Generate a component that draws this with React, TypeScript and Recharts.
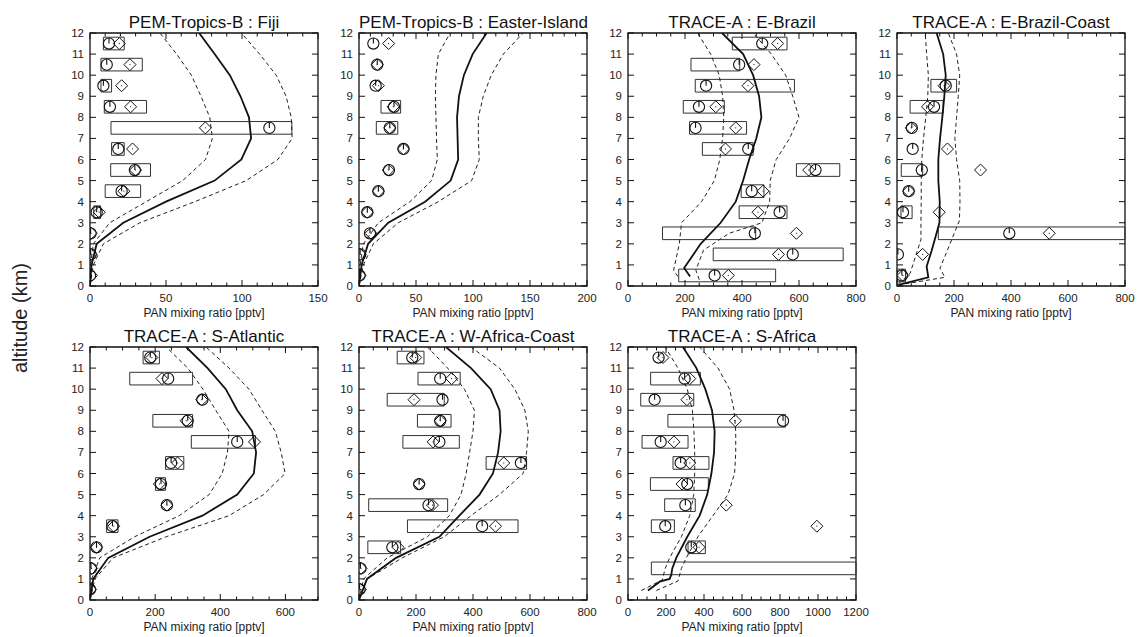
import { ScatterChart, Scatter, XAxis, YAxis, ReferenceArea } from 'recharts';

// altitude levels (km) of the observed bins and of the model profile vertices
const obsAlt = [0.5, 1.5, 2.5, 3.5, 4.5, 5.5, 6.5, 7.5, 8.5, 9.5, 10.5, 11.5];
const modelAlt = [0, 1, 2, 3, 4, 5, 6, 7, 8, 9, 10, 11, 12];
const altTicks = [0, 1, 2, 3, 4, 5, 6, 7, 8, 9, 10, 11, 12];

// PEM-Tropics-B : Fiji
const fijiTicks = [0, 50, 100, 150];
const fijiMean = [0, 1, 4.4, 21.9, 50, 82, 99.6, 106, 104.6, 99, 92, 82, 71.8];
const fijiLow = [0, 0.4, 2.2, 13, 37, 61, 76, 80.5, 78.8, 73, 66.7, 57, 46];
const fijiHigh = [0, 2.2, 8.8, 32.8, 69, 102.8, 123.6, 133, 132.4, 129, 122.5, 111.6, 99.6];
const fijiCircle = [0, 0.4, 0.4, 4.4, 20.8, 29.5, 18.6, 118, 13.1, 8.8, 11, 12.5];
const fijiDiamond = [1, 0.7, 0.7, 6.1, 22.3, 30, 28, 75.9, 26.7, 20.8, 26.3, 19.3];
const fijiBoxLo = [null, null, null, 2.5, 10, 13.6, 14.2, 13.8, 9.4, 7.2, 7.2, 8.8];
const fijiBoxHi = [null, null, null, 7, 33.3, 39.8, 22.5, 132.8, 37.2, 14.2, 34.4, 22.5];

// PEM-Tropics-B : Easter-Island
const easterTicks = [0, 50, 100, 150, 200];
const easterMean = [0, 2.3, 8, 25.7, 58, 80.4, 87, 86.5, 86, 87.7, 92, 99.7, 112];
const easterLow = [0, 1, 3.8, 17, 44.7, 63.7, 68.7, 68, 67.5, 67, 67.5, 69.6, 80];
const easterHigh = [0, 3.8, 12.6, 34.5, 69.6, 98.8, 105.5, 104.7, 104.7, 109, 116, 126.6, 144];
const easterCircle = [0.5, 1, 9.6, 7.3, 17, 26.3, 39, 27, 30.7, 14.6, 16, 12.6];
const easterDiamond = [1, 1, 10.5, 7.3, 17, 25.7, 39, 27, 30, 17, 16, 26];
const easterBoxLo = [null, null, null, null, null, null, null, 15.2, 19.3, null, null, null];
const easterBoxHi = [null, null, null, null, null, null, null, 34, 36.5, null, null, null];

// TRACE-A : E-Brazil
const brazilTicks = [0, 200, 400, 600, 800];
const brazilMeanAlt = [0.45, 0.85, 2, 3, 4, 5, 6, 7, 8, 9, 10, 11, 12];
const brazilMean = [218, 197, 255, 325, 378, 404, 425, 450, 468, 460, 439, 404, 330];
const brazilLowAlt = [0.45, 0.75, 2, 3, 4, 5, 6, 7, 8, 9, 10, 11, 12];
const brazilLow = [175, 160, 180, 188, 258, 303, 322, 332, 336, 332, 320, 290, 244];
const brazilHighAlt = [0.3, 0.75, 1.7, 2.5, 3, 4, 5, 6, 7, 8, 9, 10, 11, 12];
const brazilHigh = [250, 238, 265, 355, 470, 497, 499, 520, 567, 600, 578, 553, 503, 439];
const brazilCircle = [304, 578, 445, 532, 434, 658, 422, 237, 249, 274, 390, 471];
const brazilDiamond = [352, 528, 591, 456, 474, 634, 342, 378, 308, 421, 442, 525];
const brazilBoxLo = [178, 299, 121, 390, 397, 591, 261, 216, 194, 236, 221, 366];
const brazilBoxHi = [518, 755, 448, 558, 477, 743, 439, 416, 338, 584, 392, 558];

// TRACE-A : E-Brazil-Coast
const coastMeanAlt = [0.05, 0.41, 0.92, 1.7, 3, 4, 5, 6, 7, 8, 9, 10, 11, 12];
const coastMean = [5, 110, 104, 122, 149, 150, 145, 145, 151, 159, 166, 171, 162, 139];
const coastLowAlt = [0.1, 0.6, 2.2, 3, 4, 5, 6, 7, 8, 9, 10, 11, 12];
const coastLow = [5, 46, 84, 84, 85, 85, 87, 93, 101, 108, 110, 104, 99];
const coastHighAlt = [0.05, 0.41, 0.84, 3.1, 4, 5, 6, 7, 8, 9, 10, 11, 12];
const coastHigh = [5, 168, 151, 219, 221, 220, 209, 203, 209, 215, 220, 209, 180];
const coastCircle = [17, 3, 394, 21, 41, 87, 55, 52, 130, 171, null, null];
const coastDiamond = [21, 90, 534, 148, 41, 293, 177, 50, 107, 165, null, null];
const coastBoxLo = [0, null, 145, 14, null, 15, null, null, 46, 119, null, null];
const coastBoxHi = [30, null, 800, 53, null, 90, null, null, 162, 209, null, null];

// TRACE-A : S-Atlantic
const atlTicks = [0, 200, 400, 600];
const atlMean = [0, 10, 56, 183, 345, 452, 503, 510, 498, 452, 417, 361, 295];
const atlLow = [0, 5, 30, 137, 274, 366, 406, 422, 427, 386, 347, 300, 234];
const atlHigh = [0, 15, 71, 234, 427, 533, 599, 587, 569, 528, 488, 427, 356];
const atlCircle = [0, 3, 20, 69, 236, 218, 249, 452, 300, 345, 240, 185];
const atlDiamond = [2, 5, 20, 73, 236, 213, 269, 505, 295, 343, 221, 190];
const atlBoxLo = [null, null, null, 51, null, 201, 232, 311, 193, null, 122, 163];
const atlBoxHi = [null, null, null, 86, null, 232, 288, 508, 315, null, 315, 213];

// TRACE-A : W-Africa-Coast
const wafMean = [0, 28, 130, 282, 352, 423, 470, 488, 497, 493, 462, 393, 305];
const wafLow = [0, 16, 99, 240, 317, 358, 376, 388, 400, 405, 370, 311, 240];
const wafHigh = [0, 28, 152, 299, 393, 493, 576, 588, 594, 582, 547, 493, 393];
const wafCircle = [2, 5, 117, 432, 244, 211, 568, 282, 285, 293, 285, 187];
const wafDiamond = [5, 7, 137, 479, 258, 211, 508, 260, 285, 193, 325, 199];
const wafBoxLo = [null, null, 31, 170, 34, null, 446, 154, 205, 99, 207, 134];
const wafBoxHi = [null, null, 146, 558, 311, null, 588, 352, 323, 299, 355, 228];

// TRACE-A : S-Africa
const safTicks = [0, 200, 400, 600, 800, 1000, 1200];
const safMeanAlt = [0.45, 0.87, 1.0, 1.2, 1.5, 2, 3, 4, 5, 6, 7, 8, 9, 10, 11, 12];
const safMean = [105, 167, 219, 228, 233, 254, 312, 377, 417, 439, 453, 456, 442, 407, 360, 289];
const safLowAlt = [0.45, 0.95, 1.5, 2, 3, 4, 5, 6, 7, 8, 9, 10, 11, 12];
const safLow = [70, 180, 196, 219, 281, 325, 346, 351, 351, 347, 339, 312, 263, 196];
const safHighAlt = [0.45, 0.9, 1.5, 2, 3, 4, 5, 6, 7, 8, 9, 10, 11, 12];
const safHigh = [149, 263, 281, 307, 368, 447, 526, 561, 567, 567, 558, 535, 474, 377];
const safCircle = [null, null, 333, 196, 302, 312, 277, 172, 816, 140, 298, 161];
const safDiamond = [null, null, 374, 994, 517, 284, 325, 242, 565, 310, 325, 184];
const safBoxLo = [null, 123, 316, 123, 193, 118, 237, 74, 210, 67, 119, null];
const safBoxHi = [null, 1200, 407, 244, 354, 423, 426, 316, 828, 346, 381, null];

type Val = number | null;
type Pt = { x: number; y: number };

const prof = (alt: number[], val: number[]): Pt[] => alt.map((a, i) => ({ x: val[i], y: a }));
const obs = (vals: Val[]): Pt[] =>
  obsAlt.flatMap((a, i) => (vals[i] == null ? [] : [{ x: vals[i] as number, y: a }]));

type PanelDef = {
  title: string;
  xMax: number;
  xTicks: number[];
  minor: number;
  mean: Pt[];
  low: Pt[];
  high: Pt[];
  circle: Val[];
  diamond: Val[];
  boxLo: Val[];
  boxHi: Val[];
  col: number;
  row: number;
};

const panels: PanelDef[] = [
  { title: 'PEM-Tropics-B : Fiji', xMax: 150, xTicks: fijiTicks, minor: 10,
    mean: prof(modelAlt, fijiMean), low: prof(modelAlt, fijiLow), high: prof(modelAlt, fijiHigh),
    circle: fijiCircle, diamond: fijiDiamond, boxLo: fijiBoxLo, boxHi: fijiBoxHi, col: 0, row: 0 },
  { title: 'PEM-Tropics-B : Easter-Island', xMax: 200, xTicks: easterTicks, minor: 10,
    mean: prof(modelAlt, easterMean), low: prof(modelAlt, easterLow), high: prof(modelAlt, easterHigh),
    circle: easterCircle, diamond: easterDiamond, boxLo: easterBoxLo, boxHi: easterBoxHi, col: 1, row: 0 },
  { title: 'TRACE-A : E-Brazil', xMax: 800, xTicks: brazilTicks, minor: 50,
    mean: prof(brazilMeanAlt, brazilMean), low: prof(brazilLowAlt, brazilLow), high: prof(brazilHighAlt, brazilHigh),
    circle: brazilCircle, diamond: brazilDiamond, boxLo: brazilBoxLo, boxHi: brazilBoxHi, col: 2, row: 0 },
  { title: 'TRACE-A : E-Brazil-Coast', xMax: 800, xTicks: brazilTicks, minor: 50,
    mean: prof(coastMeanAlt, coastMean), low: prof(coastLowAlt, coastLow), high: prof(coastHighAlt, coastHigh),
    circle: coastCircle, diamond: coastDiamond, boxLo: coastBoxLo, boxHi: coastBoxHi, col: 3, row: 0 },
  { title: 'TRACE-A : S-Atlantic', xMax: 700, xTicks: atlTicks, minor: 50,
    mean: prof(modelAlt, atlMean), low: prof(modelAlt, atlLow), high: prof(modelAlt, atlHigh),
    circle: atlCircle, diamond: atlDiamond, boxLo: atlBoxLo, boxHi: atlBoxHi, col: 0, row: 1 },
  { title: 'TRACE-A : W-Africa-Coast', xMax: 800, xTicks: brazilTicks, minor: 50,
    mean: prof(modelAlt, wafMean), low: prof(modelAlt, wafLow), high: prof(modelAlt, wafHigh),
    circle: wafCircle, diamond: wafDiamond, boxLo: wafBoxLo, boxHi: wafBoxHi, col: 1, row: 1 },
  { title: 'TRACE-A : S-Africa', xMax: 1200, xTicks: safTicks, minor: 50,
    mean: prof(safMeanAlt, safMean), low: prof(safLowAlt, safLow), high: prof(safHighAlt, safHigh),
    circle: safCircle, diamond: safDiamond, boxLo: safBoxLo, boxHi: safBoxHi, col: 2, row: 1 },
];

const COL_X = [90, 359, 628, 897];
const ROW_Y = [33, 347];
const PW = 228;
const PH = 253;
const AXW = 40;
const AXH = 30;
const MT = 5;
const MR = 18;
const BOX_HALF = 0.3;
const INK = '#111';

const OpenCircle = (p: any) => {
  const { cx, cy } = p;
  if (cx == null || cy == null) return <g />;
  return (
    <g>
      <circle cx={cx} cy={cy} r={5.6} fill="none" stroke={INK} strokeWidth={1.1} />
      <line x1={cx} y1={cy - 5.6} x2={cx} y2={cy} stroke={INK} strokeWidth={1.1} />
    </g>
  );
};

const Diamond = (p: any) => {
  const { cx, cy } = p;
  if (cx == null || cy == null) return <g />;
  const s = 6;
  return (
    <g>
      <polygon
        points={`${cx},${cy - s} ${cx + s},${cy} ${cx},${cy + s} ${cx - s},${cy}`}
        fill="none"
        stroke={INK}
        strokeWidth={1}
      />
      <rect x={cx - 0.5} y={cy - 0.5} width={1} height={1} fill={INK} />
    </g>
  );
};

const NoDot = () => <g />;

function Panel({ d }: { d: PanelDef }) {
  const left = COL_X[d.col];
  const top = ROW_Y[d.row];
  const allTicks: number[] = [];
  for (let v = 0; v <= d.xMax + 1e-9; v += d.minor) allTicks.push(v);

  const xTick = (p: any) => {
    const { x, y, payload } = p;
    const v = payload.value;
    const isMajor = d.xTicks.includes(v);
    const len = isMajor ? 6 : 3.5;
    return (
      <g>
        <line x1={x} y1={y} x2={x} y2={y - len} stroke={INK} />
        <line x1={x} y1={y - PH} x2={x} y2={y - PH + len} stroke={INK} />
        {isMajor && (
          <text x={x} y={y + 16} textAnchor="middle" fontSize={11.5} fill="#222">
            {v}
          </text>
        )}
      </g>
    );
  };

  const yTick = (p: any) => {
    const { x, y, payload } = p;
    return (
      <g>
        <line x1={x} y1={y} x2={x + 6} y2={y} stroke={INK} />
        <line x1={x + PW - 6} y1={y} x2={x + PW} y2={y} stroke={INK} />
        <text x={x - 6} y={y + 4} textAnchor="end" fontSize={11.5} fill="#222">
          {payload.value}
        </text>
      </g>
    );
  };

  return (
    <>
      <div
        style={{
          position: 'absolute',
          left,
          top: top - 19.4,
          width: PW,
          textAlign: 'center',
          fontSize: 17,
          lineHeight: '17px',
          whiteSpace: 'nowrap',
          color: '#111',
        }}
      >
        {d.title}
      </div>
      <div style={{ position: 'absolute', left: left - AXW, top: top - MT }}>
        <ScatterChart
          width={AXW + PW + MR}
          height={MT + PH + AXH}
          margin={{ top: MT, right: MR, bottom: 0, left: 0 }}
        >
          <XAxis
            type="number"
            dataKey="x"
            domain={[0, d.xMax]}
            ticks={allTicks}
            interval={0}
            allowDataOverflow
            height={AXH}
            tickSize={0}
            tickMargin={0}
            tickLine={false}
            axisLine={false}
            tick={xTick}
          />
          <YAxis
            type="number"
            dataKey="y"
            domain={[0, 12]}
            ticks={altTicks}
            interval={0}
            allowDataOverflow
            width={AXW}
            tickSize={0}
            tickMargin={0}
            tickLine={false}
            axisLine={false}
            tick={yTick}
          />
          <ReferenceArea
            x1={0}
            x2={d.xMax}
            y1={0}
            y2={12}
            fill="none"
            stroke={INK}
            strokeWidth={1.3}
            ifOverflow="visible"
          />
          {obsAlt.map((a, i) =>
            d.boxLo[i] == null || d.boxHi[i] == null ? null : (
              <ReferenceArea
                key={`b${i}`}
                x1={d.boxLo[i] as number}
                x2={d.boxHi[i] as number}
                y1={a - BOX_HALF}
                y2={a + BOX_HALF}
                fill="none"
                fillOpacity={0}
                stroke="#333"
                strokeWidth={1}
                ifOverflow="visible"
              />
            )
          )}
          <Scatter
            data={d.low}
            shape={NoDot}
            line={{ stroke: '#222', strokeWidth: 1, strokeDasharray: '4 3' }}
            isAnimationActive={false}
          />
          <Scatter
            data={d.high}
            shape={NoDot}
            line={{ stroke: '#222', strokeWidth: 1, strokeDasharray: '4 3' }}
            isAnimationActive={false}
          />
          <Scatter
            data={d.mean}
            shape={NoDot}
            line={{ stroke: INK, strokeWidth: 1.8 }}
            isAnimationActive={false}
          />
          <Scatter data={obs(d.circle)} shape={OpenCircle} isAnimationActive={false} />
          <Scatter data={obs(d.diamond)} shape={Diamond} isAnimationActive={false} />
        </ScatterChart>
      </div>
      <div
        style={{
          position: 'absolute',
          left,
          top: top + PH + 20.5,
          width: PW,
          textAlign: 'center',
          fontSize: 12,
          lineHeight: '12px',
          whiteSpace: 'nowrap',
          color: '#222',
        }}
      >
        PAN mixing ratio [pptv]
      </div>
    </>
  );
}

export default function App() {
  return (
    <div
      style={{
        position: 'absolute',
        left: 0,
        top: 0,
        width: 1137,
        height: 637,
        background: '#fff',
        fontFamily: '"Liberation Sans", Arial, Helvetica, sans-serif',
        overflow: 'hidden',
      }}
    >
      <div
        style={{
          position: 'absolute',
          left: 20,
          top: 318,
          transform: 'translate(-50%, -50%) rotate(-90deg)',
          fontSize: 20,
          whiteSpace: 'nowrap',
          color: '#222',
        }}
      >
        altitude (km)
      </div>
      {panels.map((d) => (
        <Panel key={d.title} d={d} />
      ))}
    </div>
  );
}
